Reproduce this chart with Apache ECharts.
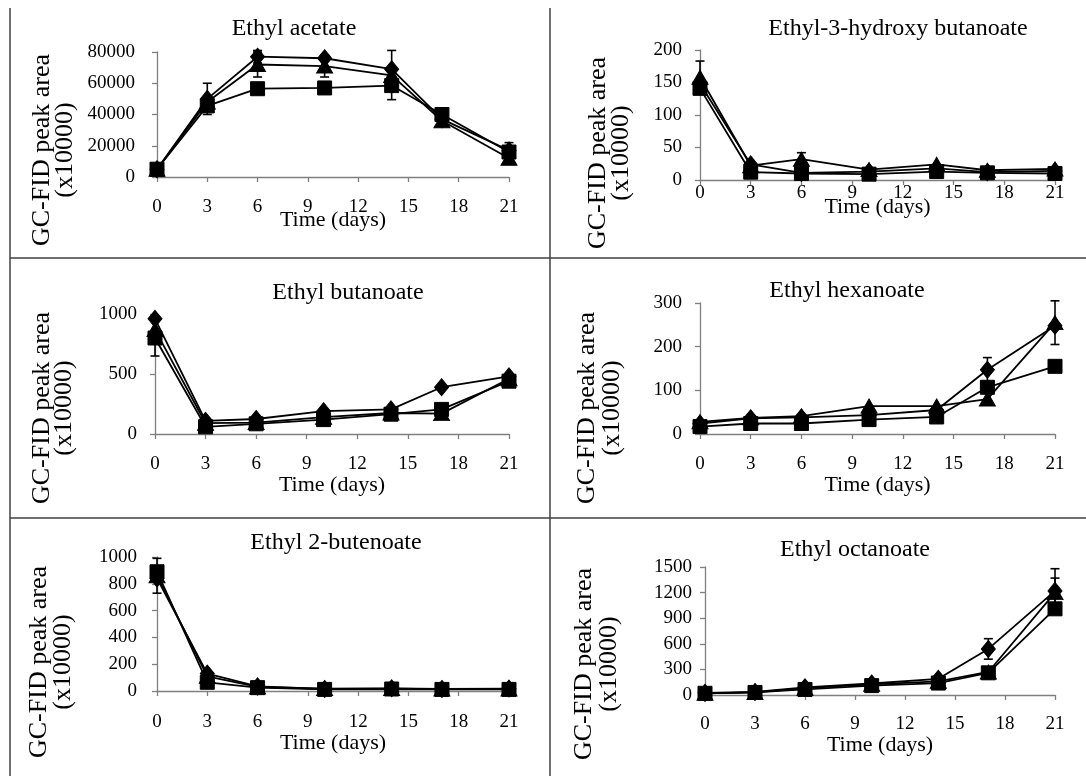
<!DOCTYPE html>
<html>
<head>
<meta charset="utf-8">
<script src="https://cdn.jsdelivr.net/npm/echarts@6/dist/echarts.min.js"></script>
<style>
html,body{margin:0;padding:0;background:#fff;}
#chart{width:1086px;height:776px;}
</style>
</head>
<body>
<div id="chart"></div>
<script>
// ---- data ----
const days = [0, 3, 6, 10, 14, 17, 21];
const titles = ['Ethyl acetate', 'Ethyl-3-hydroxy butanoate', 'Ethyl butanoate', 'Ethyl hexanoate', 'Ethyl 2-butenoate', 'Ethyl octanoate'];
const xTicks = [0, 3, 6, 9, 12, 15, 18, 21];
const yMax = [80000, 200, 1000, 300, 1000, 1500];
const yStep = [20000, 50, 500, 100, 200, 300];

const acetateDiamond  = [5000, 50000, 77000, 76000, 69000, 37000, 17000];
const acetateTriangle = [5000, 48000, 72000, 71000, 65000, 36000, 12000];
const acetateSquare   = [5000, 45500, 56500, 57000, 58500, 40000, 16000];
const acetateDiamondErr  = [0, 10000, 4000, 2000, 12000, 0, 0];
const acetateTriangleErr = [0, 0, 8000, 7000, 0, 0, 0];
const acetateSquareErr   = [0, 0, 0, 0, 9000, 0, 6000];

const hydroxyDiamond  = [148, 24, 11, 13, 18, 12, 14];
const hydroxyTriangle = [158, 22, 32, 16, 24, 15, 17];
const hydroxySquare   = [141, 12, 10, 9, 13, 11, 10];
const hydroxyDiamondErr  = [0, 0, 0, 0, 0, 0, 0];
const hydroxyTriangleErr = [25, 0, 10, 0, 0, 0, 0];
const hydroxySquareErr   = [0, 0, 0, 0, 0, 0, 0];

const butanoateDiamond  = [960, 110, 125, 190, 205, 390, 480];
const butanoateTriangle = [870, 90, 95, 140, 175, 170, 460];
const butanoateSquare   = [800, 60, 85, 120, 165, 205, 440];
const butanoateDiamondErr  = [0, 0, 0, 0, 0, 0, 0];
const butanoateTriangleErr = [0, 0, 0, 0, 0, 0, 0];
const butanoateSquareErr   = [150, 0, 0, 0, 0, 0, 0];

const hexanoateDiamond  = [24, 36, 38, 43, 55, 147, 248];
const hexanoateTriangle = [28, 37, 41, 64, 64, 80, 255];
const hexanoateSquare   = [17, 24, 24, 33, 39, 107, 155];
const hexanoateDiamondErr  = [0, 0, 0, 0, 0, 28, 0];
const hexanoateTriangleErr = [0, 0, 0, 0, 0, 0, 50];
const hexanoateSquareErr   = [0, 0, 0, 0, 0, 0, 0];

const butenoateDiamond  = [840, 130, 35, 15, 20, 15, 18];
const butenoateTriangle = [860, 110, 30, 18, 18, 14, 15];
const butenoateSquare   = [890, 65, 25, 12, 15, 12, 12];
const butenoateDiamondErr  = [0, 0, 0, 0, 0, 0, 0];
const butenoateTriangleErr = [130, 0, 0, 0, 0, 0, 0];
const butenoateSquareErr   = [0, 0, 0, 0, 0, 0, 0];

const octanoateDiamond  = [25, 35, 90, 135, 190, 540, 1220];
const octanoateTriangle = [20, 30, 80, 125, 160, 270, 1200];
const octanoateSquare   = [20, 30, 65, 110, 140, 260, 1010];
const octanoateDiamondErr  = [0, 0, 0, 0, 0, 120, 260];
const octanoateTriangleErr = [0, 0, 0, 0, 0, 0, 170];
const octanoateSquareErr   = [0, 0, 0, 0, 0, 0, 0];

const panelSeries = [
  [acetateDiamond, acetateTriangle, acetateSquare],
  [hydroxyDiamond, hydroxyTriangle, hydroxySquare],
  [butanoateDiamond, butanoateTriangle, butanoateSquare],
  [hexanoateDiamond, hexanoateTriangle, hexanoateSquare],
  [butenoateDiamond, butenoateTriangle, butenoateSquare],
  [octanoateDiamond, octanoateTriangle, octanoateSquare]
];
const panelErrors = [
  [acetateDiamondErr, acetateTriangleErr, acetateSquareErr],
  [hydroxyDiamondErr, hydroxyTriangleErr, hydroxySquareErr],
  [butanoateDiamondErr, butanoateTriangleErr, butanoateSquareErr],
  [hexanoateDiamondErr, hexanoateTriangleErr, hexanoateSquareErr],
  [butenoateDiamondErr, butenoateTriangleErr, butenoateSquareErr],
  [octanoateDiamondErr, octanoateTriangleErr, octanoateSquareErr]
];

// ---- layout ----
const FONT = 'Liberation Serif';
const grids = [
  {left: 157, top: 52, width: 352, height: 125},
  {left: 700, top: 50, width: 355, height: 130},
  {left: 155, top: 314, width: 354, height: 120},
  {left: 700, top: 303, width: 355, height: 131},
  {left: 157, top: 557, width: 352, height: 134},
  {left: 705, top: 567, width: 350, height: 128}
];
const titlePos = [[289, 12], [893, 12], [343, 276], [842, 274], [331, 526], [850, 533]];
const xLabelMargin = [21, 4, 21, 21, 22, 20];
const xNameGap = [32, 16, 40, 40, 41, 39];
const yLabelMargin = [22, 18, 18, 18, 20, 13];
const yNamePos = [[42, 65, 150], [598, 621, 153], [42, 64, 408], [587, 612, 408], [39, 63, 662], [584, 609, 664]];

const symbols = ['diamond', 'triangle', 'path://M0,0L10,0L10,10L0,10Z'];
const symbolSizes = [[14, 17], [16, 14], [14, 14]];

const axisColor = '#7f7f7f';
const option = {
  animation: false,
  backgroundColor: '#fff',
  title: titles.map((t, i) => ({
    text: t, left: titlePos[i][0], top: titlePos[i][1], textAlign: 'center',
    textStyle: {fontFamily: FONT, fontSize: 24, fontWeight: 'normal', color: '#000'}
  })),
  grid: grids,
  xAxis: grids.map((g, i) => ({
    type: 'value', gridIndex: i, min: 0, max: 21, interval: 3,
    name: 'Time (days)', nameLocation: 'middle', nameGap: xNameGap[i], nameMoveOverlap: false,
    nameTextStyle: {fontFamily: FONT, fontSize: 22, color: '#000'},
    axisLine: {show: true, lineStyle: {color: axisColor, width: 1.3}},
    axisTick: {show: true, length: 5, lineStyle: {color: axisColor, width: 1.3}},
    axisLabel: {fontFamily: FONT, fontSize: 19, color: '#000', margin: xLabelMargin[i],
      formatter: v => xTicks.indexOf(v) >= 0 ? String(v) : ''},
    splitLine: {show: false}
  })),
  yAxis: grids.map((g, i) => ({
    type: 'value', gridIndex: i, min: 0, max: yMax[i], interval: yStep[i],
    axisLine: {show: true, lineStyle: {color: axisColor, width: 1.3}},
    axisTick: {show: true, length: 5, lineStyle: {color: axisColor, width: 1.3}},
    axisLabel: {fontFamily: FONT, fontSize: 19, color: '#000', margin: yLabelMargin[i],
      formatter: v => String(v)},
    splitLine: {show: false}
  })),
  graphic: [],
  series: []
};

// borders between panels
const border = {stroke: '#404040', lineWidth: 1.5};
option.graphic.push(
  {type: 'line', shape: {x1: 10, y1: 8, x2: 10, y2: 776}, style: border, silent: true},
  {type: 'line', shape: {x1: 550, y1: 8, x2: 550, y2: 776}, style: border, silent: true},
  {type: 'line', shape: {x1: 10, y1: 258, x2: 1086, y2: 258}, style: border, silent: true},
  {type: 'line', shape: {x1: 10, y1: 518, x2: 1086, y2: 518}, style: border, silent: true}
);
// y axis names (two lines, rotated)
yNamePos.forEach(p => {
  option.graphic.push(
    {type: 'text', x: p[0], y: p[2], rotation: Math.PI / 2,
     style: {text: 'GC-FID peak area', font: '26px "Liberation Serif"', fill: '#000', textAlign: 'center', textVerticalAlign: 'middle'}},
    {type: 'text', x: p[1], y: p[2], rotation: Math.PI / 2,
     style: {text: '(x10000)', font: '26px "Liberation Serif"', fill: '#000', textAlign: 'center', textVerticalAlign: 'middle'}}
  );
});

function errRender(params, api) {
  const x = api.value(0), lo = api.value(1), hi = api.value(2);
  const top = api.coord([x, hi]);
  const bot = api.coord([x, lo]);
  const c = 4.5;
  const st = {stroke: '#000', lineWidth: 1.6};
  return {type: 'group', children: [
    {type: 'line', shape: {x1: top[0], y1: top[1], x2: bot[0], y2: bot[1]}, style: st},
    {type: 'line', shape: {x1: top[0] - c, y1: top[1], x2: top[0] + c, y2: top[1]}, style: st},
    {type: 'line', shape: {x1: bot[0] - c, y1: bot[1], x2: bot[0] + c, y2: bot[1]}, style: st}
  ]};
}

panelSeries.forEach((set, i) => {
  set.forEach((vals, k) => {
    const errs = panelErrors[i][k];
    const data = [];
    vals.forEach((v, j) => { if (errs[j] > 0) data.push([days[j], Math.max(0, v - errs[j]), v + errs[j]]); });
    if (data.length) {
      option.series.push({type: 'custom', xAxisIndex: i, yAxisIndex: i, renderItem: errRender, data: data, z: 1, silent: true});
    }
  });
  set.forEach((vals, k) => {
    option.series.push({
      type: 'line', xAxisIndex: i, yAxisIndex: i,
      data: vals.map((v, j) => [days[j], v]),
      symbol: symbols[k], symbolSize: symbolSizes[k], showSymbol: true,
      lineStyle: {color: '#000', width: 1.8},
      itemStyle: {color: '#000', borderColor: '#000'},
      z: 2 + k, silent: true
    });
  });
});

const chart = echarts.init(document.getElementById('chart'), null, {renderer: 'canvas'});
chart.setOption(option);
</script>
</body>
</html>
